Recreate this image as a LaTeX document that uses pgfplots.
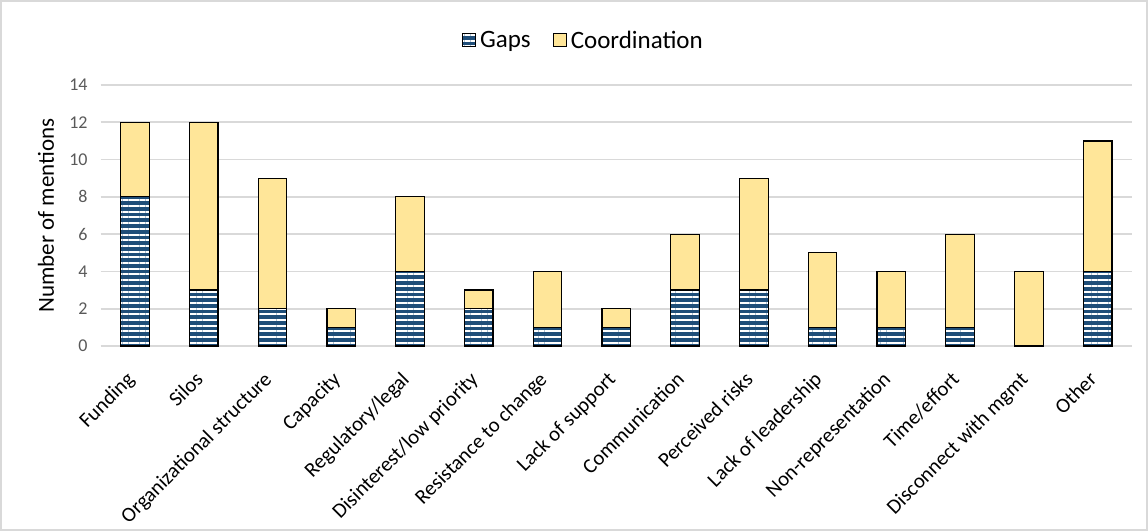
\documentclass[border=0pt]{standalone}
\usepackage{pgfplots}
\pgfplotsset{compat=1.18}
\usetikzlibrary{patterns.meta}
\usepackage{fontspec}
\setmainfont{Carlito}

\definecolor{navy}{HTML}{1F4E79}
\definecolor{sand}{HTML}{FFE699}
\definecolor{gridgray}{HTML}{D9D9D9}
\definecolor{ticktext}{HTML}{595959}

\begin{document}
\begin{tikzpicture}
\useasboundingbox (0,0) rectangle (574pt,265.5pt);
\draw[gridgray, line width=0.8pt] (0.5pt,0.5pt) rectangle (573.5pt,265pt);
\begin{axis}[
    at={(50.3pt,92.5pt)}, anchor=south west,
    scale only axis,
    width=515.7pt, height=130.5pt,
    ybar stacked,
    bar width=14.3pt,
    xmin=-0.5, xmax=14.5,
    ymin=0, ymax=14,
    ytick distance=2,
    xtick=data,
    xticklabels={Funding, Silos, Organizational structure, Capacity, Regulatory/legal,
        Disinterest/low priority, Resistance to change, Lack of support, Communication,
        Perceived risks, Lack of leadership, Non-representation, Time/effort,
        Disconnect with mgmt, Other},
    major tick length=0pt,
    axis line style={draw=none},
    ymajorgrids,
    grid style={gridgray, line width=0.8pt},
    /pgf/number format/assume math mode=true,
    yticklabel style={font=\fontsize{9}{10}\selectfont, text=ticktext, xshift=-3pt},
    xticklabel style={font=\fontsize{10.4}{12}\selectfont, rotate=45, anchor=north east, inner sep=1pt, yshift=-4pt, xshift=-11pt},
    ylabel={Number of mentions},
    ylabel style={font=\fontsize{11.5}{13}\selectfont, at={(axis description cs:-0.053,0.5)}, anchor=center},
    legend style={at={(0.469,1.169)}, anchor=center, legend columns=-1, draw=none,
        font=\fontsize{12.5}{14}\selectfont,
        /tikz/every even column/.append style={column sep=9pt}},
    legend image code/.code={\draw[#1] (0pt,-3pt) rectangle (6.5pt,3.5pt);},
]
\addplot[draw=black, line width=0.6pt, fill=navy,
    postaction={pattern={Lines[angle=0, distance=2.85pt, line width=1pt]}, pattern color=white}]
    coordinates {(0,8) (1,3) (2,2) (3,1) (4,4) (5,2) (6,1) (7,1) (8,3) (9,3) (10,1) (11,1) (12,1) (13,0) (14,4)};
\addlegendentry{Gaps}
\addplot[draw=black, line width=0.6pt, fill=sand]
    coordinates {(0,4) (1,9) (2,7) (3,1) (4,4) (5,1) (6,3) (7,1) (8,3) (9,6) (10,4) (11,3) (12,5) (13,4) (14,7)};
\addlegendentry{Coordination}
\end{axis}
\end{tikzpicture}
\end{document}
